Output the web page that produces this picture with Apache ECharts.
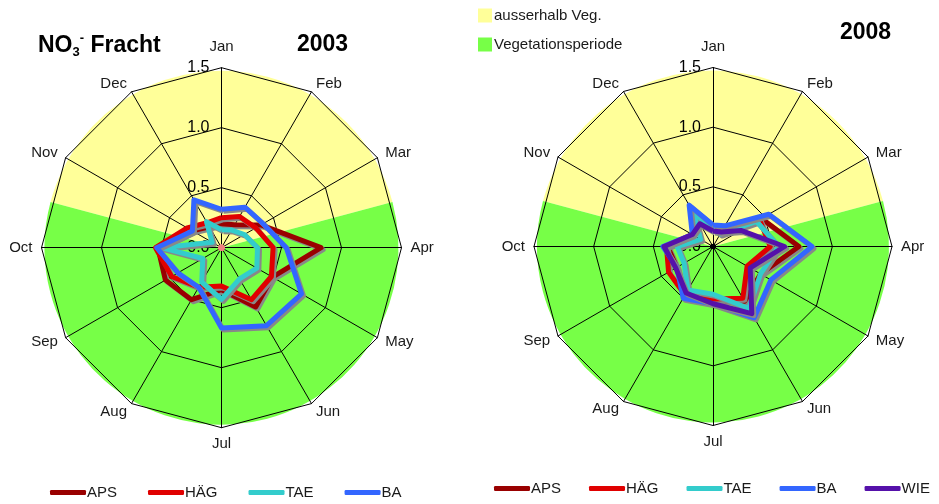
<!DOCTYPE html>
<html><head><meta charset="utf-8">
<script src="https://cdn.jsdelivr.net/npm/echarts@6/dist/echarts.min.js"></script>
<style>html,body{margin:0;padding:0;background:#fff}#c{width:939px;height:504px}</style>
</head><body><div id="c"></div>
<script>
const months = ['Jan','Feb','Mar','Apr','May','Jun','Jul','Aug','Sep','Oct','Nov','Dec'];
const axisMax = 1.5;
const axisSplits = 3;
const seasonNames = ['ausserhalb Veg.', 'Vegetationsperiode'];
const seasonMonths = [5, 7];
const stations2003 = ['APS','HÄG','TAE','BA'];
const stations2008 = ['APS','HÄG','TAE','BA','WIE'];
const aps2003 = [0.20, 0.22, 0.38, 0.83, 0.49, 0.57, 0.35, 0.50, 0.54, 0.53, 0.28, 0.20];
const hag2003 = [0.25, 0.30, 0.33, 0.43, 0.48, 0.50, 0.32, 0.38, 0.48, 0.55, 0.33, 0.24];
const tae2003 = [0.15, 0.17, 0.22, 0.30, 0.34, 0.30, 0.43, 0.33, 0.18, 0.50, 0.09, 0.25];
const ba2003  = [0.32, 0.39, 0.40, 0.54, 0.77, 0.75, 0.67, 0.38, 0.42, 0.54, 0.28, 0.46];
const aps2008 = [0.15, 0.15, 0.47, 0.72, 0.46, 0.53, 0.45, 0.47, 0.35, 0.38, 0.20, 0.30];
const hag2008 = [0.15, 0.15, 0.45, 0.48, 0.33, 0.50, 0.44, 0.47, 0.43, 0.39, 0.20, 0.30];
const tae2008 = [0.15, 0.12, 0.42, 0.55, 0.46, 0.60, 0.40, 0.42, 0.28, 0.30, 0.12, 0.33];
const ba2008  = [0.18, 0.20, 0.54, 0.83, 0.56, 0.69, 0.48, 0.50, 0.35, 0.42, 0.20, 0.40];
const wie2008 = [0.13, 0.14, 0.27, 0.60, 0.36, 0.65, 0.48, 0.45, 0.36, 0.41, 0.20, 0.22];
const zeros = [0,0,0,0,0,0,0,0,0,0,0,0];

const FONT = "'Liberation Sans', Arial, sans-serif";
const colors = {APS:'#990000', 'HÄG':'#E00000', TAE:'#33CCCC', BA:'#3366FF', WIE:'#5511AA'};
const seasonColors = ['#FFFF99', '#77FF47'];

const data2003 = {APS: aps2003, 'HÄG': hag2003, TAE: tae2003, BA: ba2003};
const data2008 = {APS: aps2008, 'HÄG': hag2008, TAE: tae2008, BA: ba2008, WIE: wie2008};

// ECharts radar runs counter-clockwise; reorder so the months run clockwise
const order = months.map((m, i) => (12 - i) % 12);
const cw = arr => order.map(i => arr[i]);

function radarCfg(cx, cy, r) {
  return {
    center: [cx, cy], radius: r, startAngle: 90, shape: 'polygon',
    splitNumber: axisSplits, z: 3,
    indicator: order.map((mi, k) => k === 0
      ? {name: months[mi], min: 0, max: axisMax, nameGap: 13, axisLabel: {show: true}}
      : {name: months[mi], min: 0, max: axisMax}),
    axisName: {color: '#1a1a1a', fontSize: 15, fontFamily: FONT},
    nameGap: 9,
    splitLine: {lineStyle: {color: '#000', width: 1}},
    splitArea: {show: false},
    axisLine: {lineStyle: {color: '#000', width: 1}},
    axisTick: {show: false},
    axisLabel: {show: false, color: '#000', fontSize: 16, fontFamily: FONT, margin: 12,
      formatter: v => v.toFixed(1)}
  };
}

function seasonPie(cx, cy, r) {
  return {
    type: 'pie', center: [cx, cy], radius: r, startAngle: 165, clockwise: true,
    silent: true, z: 0, label: {show: false}, labelLine: {show: false},
    animation: false,
    data: seasonNames.map((n, i) => ({name: n, value: seasonMonths[i], itemStyle: {color: seasonColors[i]}}))
  };
}

function stationSeries(dataMap, names, radarIndex) {
  return names.map(n => ({
    type: 'radar', radarIndex: radarIndex, symbol: 'none', z: 4, animation: false,
    lineStyle: {color: colors[n], width: 5, shadowColor: '#888', shadowOffsetX: 2, shadowOffsetY: 2, shadowBlur: 0},
    itemStyle: {color: colors[n]},
    data: [{name: n, value: cw(dataMap[n])}]
  }));
}

const legendText = {fontSize: 15, fontFamily: FONT, color: '#1a1a1a', padding: [0,0,0,-4]};
const chart = echarts.init(document.getElementById('c'));
chart.setOption({
  animation: false,
  title: [
    {text: '{a|NO}{s|3}{p|-}{a| Fracht}', left: 33, top: 27,
      textStyle: {rich: {
        a: {fontSize: 23, fontWeight: 'bold', fontFamily: FONT, color: '#000'},
        s: {fontSize: 13, fontWeight: 'bold', fontFamily: FONT, color: '#000', verticalAlign: 'bottom', padding: [14, 0, 0, 0]},
        p: {fontSize: 13, fontWeight: 'bold', fontFamily: FONT, color: '#000', verticalAlign: 'top', padding: [0, 0, 12, 0]}
      }}},
    {text: '2003', left: 292, top: 28, textStyle: {fontSize: 23, fontWeight: 'bold', fontFamily: FONT, color: '#000'}},
    {text: '2008', left: 835, top: 16, textStyle: {fontSize: 23, fontWeight: 'bold', fontFamily: FONT, color: '#000'}}
  ],
  legend: [
    {data: seasonNames, orient: 'vertical', left: 478, top: 8, padding: 0, itemWidth: 14, itemHeight: 14, itemGap: 14,
      icon: 'rect', textStyle: {fontSize: 15, fontFamily: FONT, color: '#1a1a1a', padding: [0,0,0,-3]}},
    {data: stations2003, left: 50, top: 485, padding: 0, width: 400, itemWidth: 36, itemHeight: 5, itemGap: 31, icon: 'roundRect',
      itemStyle: {shadowBlur: 0, shadowColor: 'transparent'}, textStyle: legendText},
    {data: stations2008, left: 494, top: 481, padding: 0, width: 445, itemWidth: 36, itemHeight: 5, itemGap: 28, icon: 'roundRect',
      itemStyle: {shadowBlur: 0, shadowColor: 'transparent'}, textStyle: legendText}
  ],
  radar: [radarCfg(221.5, 247.7, 180), radarCfg(713, 246.5, 179)],
  series: [
    seasonPie(221.5, 247.7, 177),
    seasonPie(713, 246.5, 176),
    ...stationSeries(data2003, stations2003, 0),
    ...stationSeries(data2008, stations2008, 1),
    {type: 'radar', radarIndex: 0, z: 5, symbol: 'circle', symbolSize: 6, silent: true,
      lineStyle: {width: 0}, itemStyle: {color: '#F08080'}, data: [{name: 'c1', value: zeros}]},
    {type: 'radar', radarIndex: 1, z: 5, symbol: 'circle', symbolSize: 5, silent: true,
      lineStyle: {width: 0}, itemStyle: {color: '#000'}, data: [{name: 'c2', value: zeros}]}
  ]
});
</script></body></html>
